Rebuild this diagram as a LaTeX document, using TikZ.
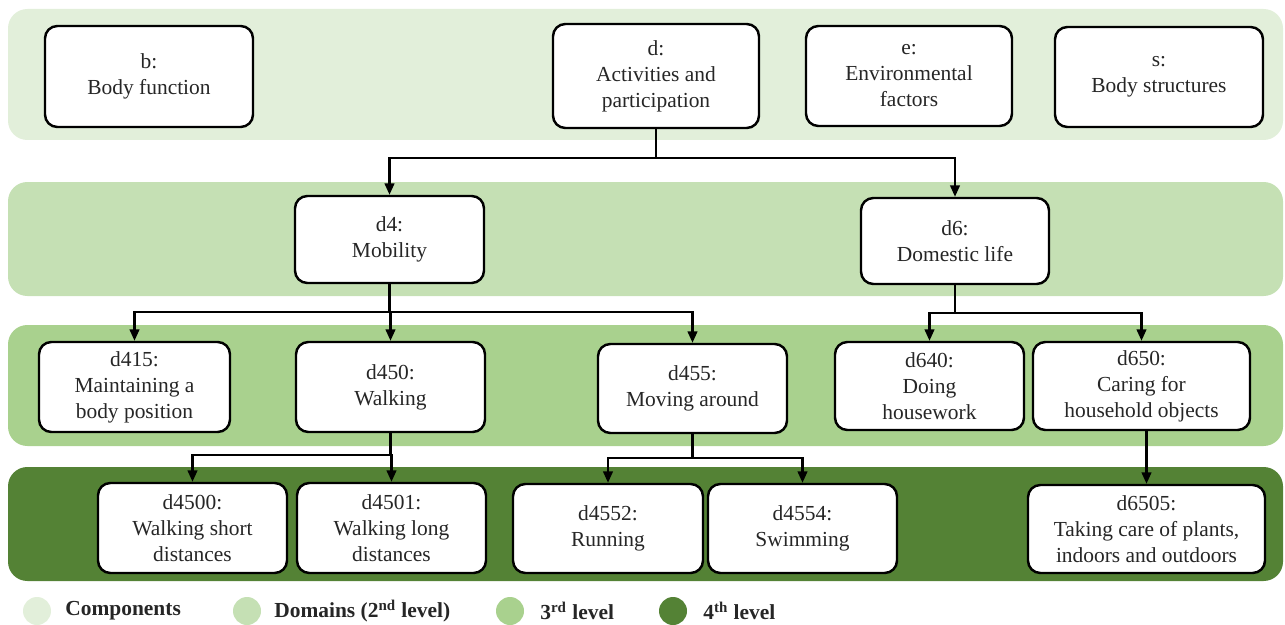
\documentclass[tikz,border=0pt]{standalone}
\usepackage{fontspec}
\setmainfont{Liberation Serif}
\usetikzlibrary{arrows.meta}
\definecolor{bandA}{HTML}{E2EFDA}
\definecolor{bandB}{HTML}{C5E0B4}
\definecolor{bandC}{HTML}{A9D18E}
\definecolor{bandD}{HTML}{548235}
\definecolor{txt}{HTML}{262626}
\newcommand\bx[6]{\node[box, minimum width={(#4-#2)*0.02cm}, minimum height={(#5-#3)*0.02cm}] (#1) at ({(#2+#4)/2},{(#3+#5)/2}) {#6};}
\newcommand\band[5]{\fill[#5, rounded corners=11pt] (#1,#2) rectangle (#3,#4);}
\begin{document}
\begin{tikzpicture}[x=0.02cm,y=-0.02cm,
  box/.style={draw=black, fill=white, line width=1.4pt, rounded corners=7pt, inner sep=0pt, align=center, text=txt, font=\fontsize{12.2pt}{14.8pt}\selectfont},
  conn/.style={draw=black, line width=1.2pt},
  arr/.style={conn, -{Triangle[length=6.5pt,width=5.5pt]}},
  legtext/.style={anchor=west, inner sep=0pt, text=txt, font=\fontsize{12.2pt}{14.8pt}\selectfont\bfseries},
  legdot/.style={circle, minimum size={28*0.02cm}, inner sep=0pt}
]
\useasboundingbox (0,0) rectangle (1285,625);
% bands
\band{8}{9}{1283}{140}{bandA}
\band{8}{182}{1283}{296}{bandB}
\band{8}{325}{1283}{446}{bandC}
\band{8}{467}{1283}{581}{bandD}
% row 1
\bx{b}{45}{26}{253}{127}{b:\\Body function}
\bx{d}{553}{24}{759}{128}{d:\\Activities and\\participation}
\bx{e}{806}{26}{1012}{126}{e:\\Environmental\\factors}
\bx{s}{1055}{27}{1263}{127}{s:\\Body structures}
% row 2
\bx{d4}{295}{196}{484}{283}{d4:\\Mobility}
\bx{d6}{861}{198}{1049}{284}{d6:\\Domestic life}
% row 3
\bx{d415}{39}{342}{230}{432}{d415:\\Maintaining a\\body position}
\bx{d450}{296}{342}{485}{432}{d450:\\Walking}
\bx{d455}{598}{344}{787}{433}{d455:\\Moving around}
\bx{d640}{835}{342}{1024}{430}{d640:\\Doing\\housework}
\bx{d650}{1033}{342}{1250}{430}{d650:\\Caring for\\household objects}
% row 4
\bx{d4500}{98}{483}{287}{573}{d4500:\\Walking short\\distances}
\bx{d4501}{297}{483}{486}{573}{d4501:\\Walking long\\distances}
\bx{d4552}{513}{484}{703}{573}{d4552:\\Running}
\bx{d4554}{708}{484}{897}{573}{d4554:\\Swimming}
\bx{d6505}{1028}{485}{1265}{573}{d6505:\\Taking care of plants,\\indoors and outdoors}
% connectors
\coordinate (j1) at (d.south |- 0,158);
\draw[conn] (d.south) -- (j1);
\draw[arr] (j1) -| (d4.north);
\draw[arr] (j1) -| (d6.north);
\coordinate (j2) at (d4.south |- 0,312);
\draw[conn] (d4.south) -- (j2);
\draw[arr] (j2) -| (d415.north);
\draw[arr] (j2) -| (d450.north);
\draw[arr] (j2) -| (d455.north);
\coordinate (j3) at (d6.south |- 0,313);
\draw[conn] (d6.south) -- (j3);
\draw[arr] (j3) -| (d640.north);
\draw[arr] (j3) -| (d650.north);
\coordinate (j4) at (d450.south |- 0,455);
\draw[conn] (d450.south) -- (j4);
\draw[arr] (j4) -| (d4500.north);
\draw[arr] (j4) -| (d4501.north);
\coordinate (j5) at (d455.south |- 0,458);
\draw[conn] (d455.south) -- (j5);
\draw[arr] (j5) -| (d4552.north);
\draw[arr] (j5) -| (d4554.north);
\draw[arr] (d650.south -| d6505.north) -- (d6505.north);
% legend
\node[legdot, fill=bandA] (l1) at (37,611) {};
\node[legtext] (t1) at (65,611) {Components};
\node[legdot, fill=bandB] (l2) at (247,611) {};
\node[legtext] (t2) at (274,611) {Domains (2\textsuperscript{nd} level)};
\node[legdot, fill=bandC] (l3) at (510,611) {};
\node[legtext] (t3) at (540,611) {3\textsuperscript{rd} level};
\node[legdot, fill=bandD] (l4) at (673,611) {};
\node[legtext] (t4) at (703,611) {4\textsuperscript{th} level};
\end{tikzpicture}
\end{document}
